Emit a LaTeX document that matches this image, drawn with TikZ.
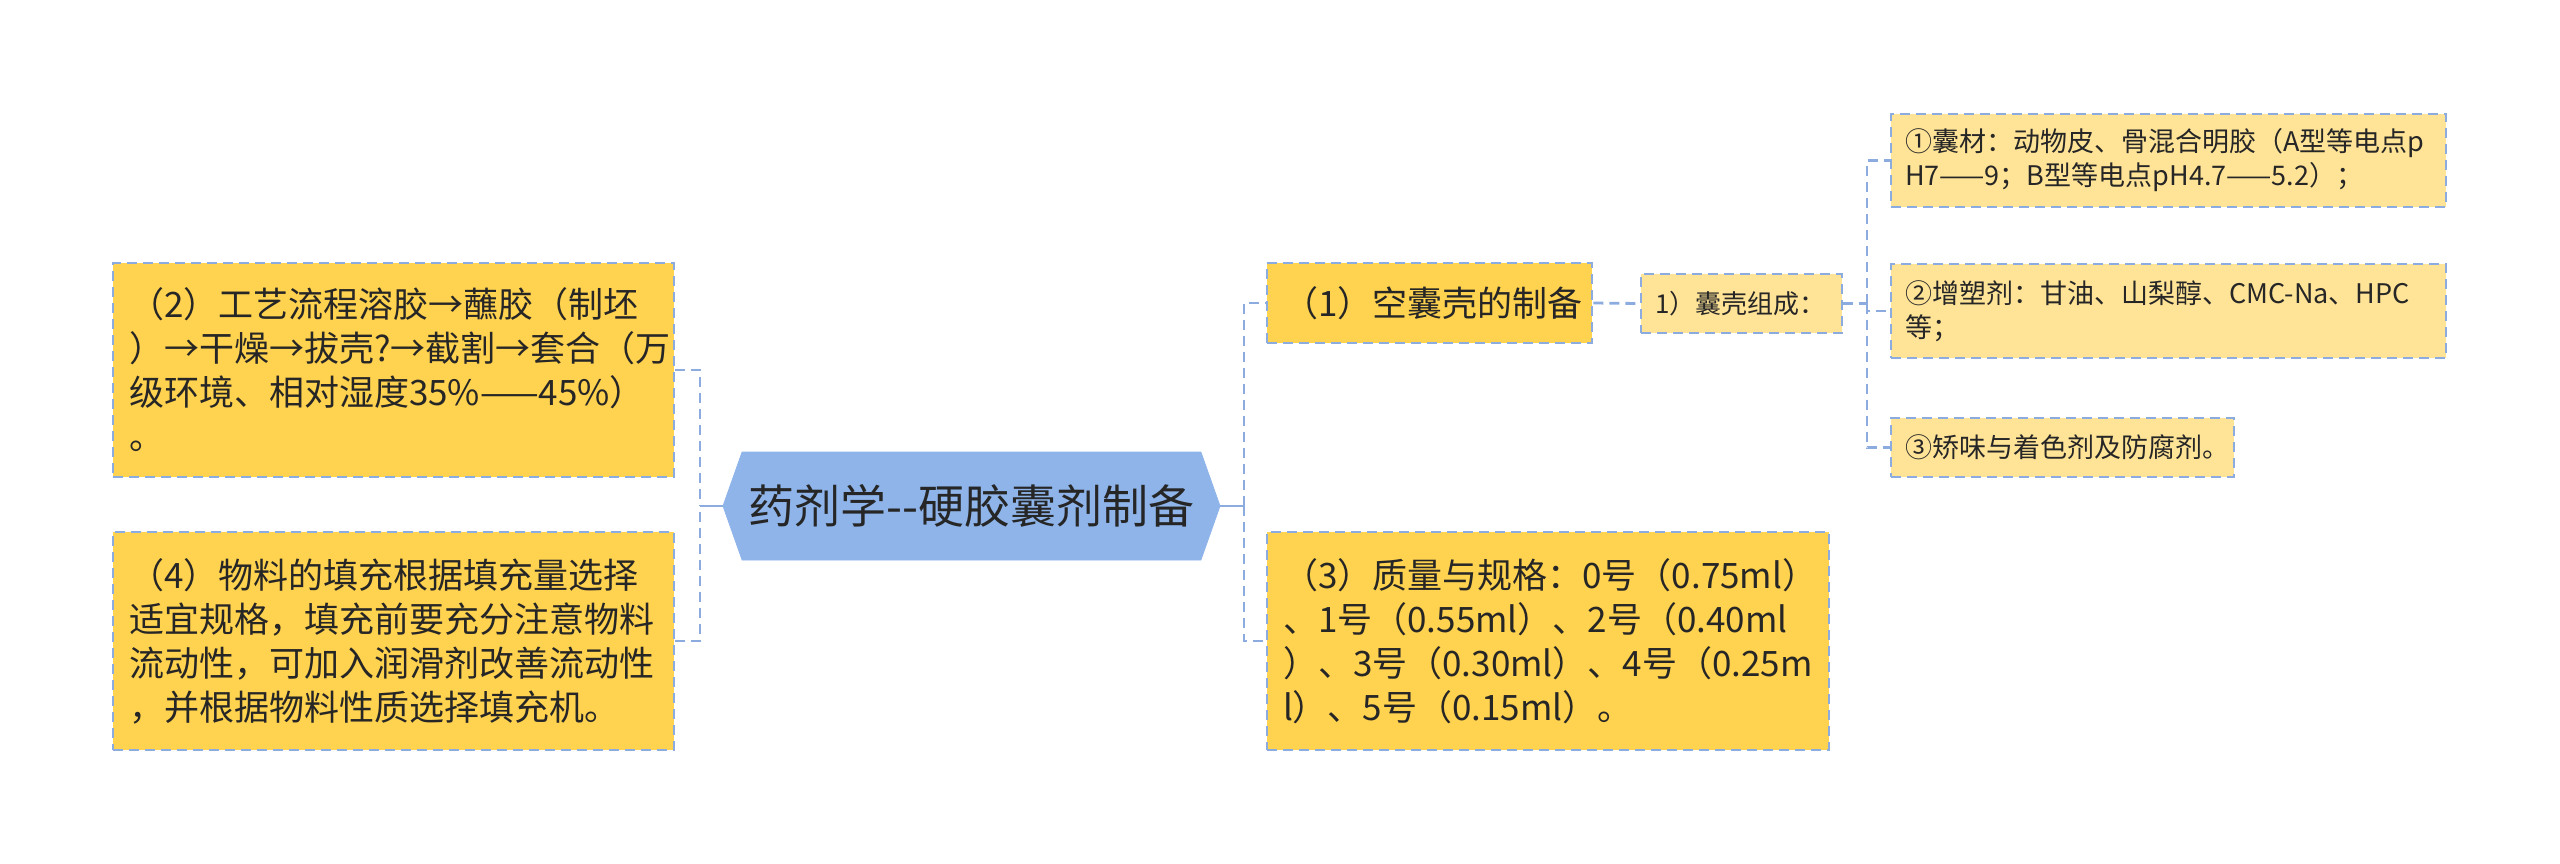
\documentclass[tikz,border=0pt]{standalone}
\usepackage{fontspec}
\setmainfont{Noto Sans CJK SC}
\usetikzlibrary{shapes.symbols}
\definecolor{linec}{HTML}{8CACE0}
\definecolor{rootc}{HTML}{8EB4EA}
\definecolor{mainc}{HTML}{FFD24F}
\definecolor{subc}{HTML}{FFE498}
\definecolor{inkc}{HTML}{262626}
\begin{document}
\begin{tikzpicture}[x=0.5pt,y=-0.5pt,
  linkline/.style={draw=linec,line width=1.4pt,dash pattern=on 5pt off 3pt},
  topic/.style={signal,signal to=west and east,signal pointer angle=141,
    fill=rootc,draw=rootc,text=inkc,inner xsep=0pt,
    minimum width=248.5pt,minimum height=54pt,font=\fontsize{23}{27}\selectfont},
  mainbox/.style={rectangle,fill=mainc,linkline,text=inkc,align=left,inner xsep=8pt,
    font=\fontsize{17.5}{22}\selectfont},
  subbox/.style={rectangle,fill=subc,linkline,text=inkc,align=left,inner xsep=7pt,
    font=\fontsize{13.5}{17}\selectfont}]
\useasboundingbox (0,0) rectangle (2560,863);

\node[topic] (root) at (971.5,506) {药剂学-{}-硬胶囊剂制备};

% left side
\node[mainbox,text width=264.5pt,minimum height=107pt] (prep) at (393.5,370)
  {（2）工艺流程溶胶→蘸胶（制坯\\）→干燥→拔壳?→截割→套合（万\\级环境、相对湿度35\%——45\%）\\。};
\node[mainbox,text width=264.5pt,minimum height=109pt] (fill) at (393.5,641)
  {（4）物料的填充根据填充量选择\\适宜规格，填充前要充分注意物料\\流动性，可加入润滑剂改善流动性\\，并根据物料性质选择填充机。};

% right side
\node[mainbox,text width=146.5pt,minimum height=40pt] (shell) at (1429.5,303)
  {（1）空囊壳的制备};
\node[mainbox,text width=265pt,minimum height=109pt] (size) at (1548,641)
  {（3）质量与规格：0号（0.75ml）\\、1号（0.55ml）、2号（0.40ml\\）、3号（0.30ml）、4号（0.25m\\l）、5号（0.15ml）。};
\node[subbox,font=\fontsize{13}{16}\selectfont,text width=86.5pt,minimum height=29.5pt] (parts) at (1741.5,303.5)
  {1）囊壳组成：};
\node[subbox,text width=263.5pt,minimum height=46.5pt] (gel) at (2168.5,160.5)
  {①囊材：动物皮、骨混合明胶（A型等电点p\\H7——9；B型等电点pH4.7——5.2）；};
\node[subbox,text width=263.5pt,minimum height=47pt] (plast) at (2168.5,311)
  {②增塑剂：甘油、山梨醇、CMC-Na、HPC\\等；};
\node[subbox,text width=157.5pt,minimum height=29.5pt] (color) at (2062.5,447.5)
  {③矫味与着色剂及防腐剂。};

\coordinate (jl) at (700,506);
\coordinate (jr) at (1244,506);
\coordinate (jp) at (1867,303.5);

\draw[linec,line width=1.4pt] (root.west) -- (jl);
\draw[linec,line width=1.4pt] (root.east) -- (jr);
\draw[linkline] (prep.east) -| (jl);
\draw[linkline] (fill.east) -| (jl);
\draw[linkline] (jr) |- (shell.west);
\draw[linkline] (jr) |- (size.west);
\draw[linkline] (shell.east) -- (parts.west);
\draw[linkline] (parts.east) -- (jp);
\draw[linkline] (jp) |- (gel.west);
\draw[linkline] (jp) |- (plast.west);
\draw[linkline] (jp) |- (color.west);
\end{tikzpicture}
\end{document}
